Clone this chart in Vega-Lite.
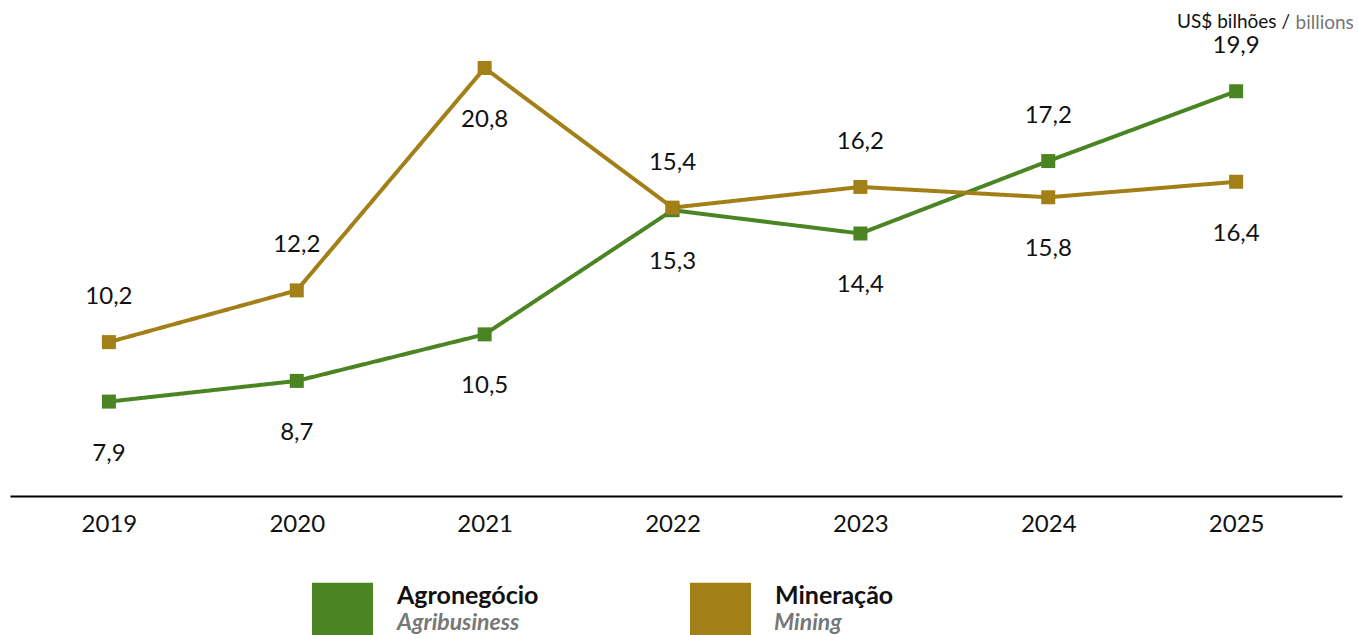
{
  "$schema": "https://vega.github.io/schema/vega-lite/v6.json",
  "width": 1332,
  "height": 472,
  "autosize": {"type": "none"},
  "padding": {"left": 10, "top": 24, "right": 17, "bottom": 139},
  "background": "white",
  "config": {"view": {"stroke": null}, "font": "Lato",
    "locale": {"number": {"decimal": ",", "thousands": ".", "grouping": [3], "currency": ["R$", ""]}}},
  "title": {"text": "US$ bilhões /", "anchor": "end", "frame": "group", "orient": "top", "offset": 0, "dy": 34, "dx": -52, "baseline": "alphabetic", "fontSize": 19, "font": "Lato", "fontWeight": "normal", "color": "#111111"},
  "data": {"values": [
    {"year": "2019", "series": "Agronegócio", "series_en": "Agribusiness", "value": 7.9, "pos": "below"},
    {"year": "2020", "series": "Agronegócio", "series_en": "Agribusiness", "value": 8.7, "pos": "below"},
    {"year": "2021", "series": "Agronegócio", "series_en": "Agribusiness", "value": 10.5, "pos": "below"},
    {"year": "2022", "series": "Agronegócio", "series_en": "Agribusiness", "value": 15.3, "pos": "below"},
    {"year": "2023", "series": "Agronegócio", "series_en": "Agribusiness", "value": 14.4, "pos": "below"},
    {"year": "2024", "series": "Agronegócio", "series_en": "Agribusiness", "value": 17.2, "pos": "above"},
    {"year": "2025", "series": "Agronegócio", "series_en": "Agribusiness", "value": 19.9, "pos": "above"},
    {"year": "2019", "series": "Mineração", "series_en": "Mining", "value": 10.2, "pos": "above"},
    {"year": "2020", "series": "Mineração", "series_en": "Mining", "value": 12.2, "pos": "above"},
    {"year": "2021", "series": "Mineração", "series_en": "Mining", "value": 20.8, "pos": "below"},
    {"year": "2022", "series": "Mineração", "series_en": "Mining", "value": 15.4, "pos": "above"},
    {"year": "2023", "series": "Mineração", "series_en": "Mining", "value": 16.2, "pos": "above"},
    {"year": "2024", "series": "Mineração", "series_en": "Mining", "value": 15.8, "pos": "below"},
    {"year": "2025", "series": "Mineração", "series_en": "Mining", "value": 16.4, "pos": "below"}
  ]},
  "encoding": {
    "x": {"field": "year", "type": "ordinal",
      "scale": {"type": "point", "padding": 0.545, "align": 0.483},
      "axis": {"title": null, "domainColor": "#000000", "domainWidth": 2, "ticks": false, "labelFontSize": 24, "labelColor": "#111111", "labelPadding": 16, "labelFont": "Lato", "grid": false, "labelAngle": 0}},
    "y": {"field": "value", "type": "quantitative",
      "scale": {"domain": [4.25, 22.5], "nice": false, "zero": false},
      "axis": {"orient": "right", "title": "billions", "titleColor": "#767676", "titleFontSize": 19, "titleFontWeight": "normal", "titleFont": "Lato", "titleAngle": 0, "titleAlign": "left", "titleBaseline": "alphabetic", "titleX": -47, "titleY": 4, "labels": false, "ticks": false, "domain": false, "grid": false}}
  },
  "layer": [
    {
      "mark": {"type": "line", "strokeWidth": 4},
      "encoding": {
        "color": {"field": "series", "type": "nominal",
          "scale": {"domain": ["Agronegócio", "Mineração"], "range": ["#4b8523", "#a27f17"]},
          "legend": {"orient": "none", "legendX": 302, "legendY": 541, "direction": "horizontal", "title": null,
            "symbolType": "M-1,-0.43H1V1.57H-1Z", "symbolSize": 3721, "symbolStrokeWidth": 0,
            "labelFont": "Lato", "labelFontSize": 25, "labelFontWeight": "bold", "labelColor": "#111111",
            "labelOffset": 24, "columnPadding": 151, "padding": 0,
            "encode": {"symbols": {"update": {"fill": {"scale": "color", "field": "value"}, "stroke": {"value": "transparent"}, "opacity": {"value": 1}}}}}},
        "strokeDash": {"field": "series_en", "type": "nominal",
          "scale": {"domain": ["Agribusiness", "Mining"], "range": [[1, 0], [1, 0]]},
          "legend": {"orient": "none", "legendX": 302, "legendY": 568, "direction": "horizontal", "title": null,
            "symbolType": "M-1,-0.43H1V1.57H-1Z", "symbolSize": 3721, "symbolOpacity": 0, "symbolStrokeWidth": 0,
            "labelFont": "Lato", "labelFontSize": 23, "labelFontWeight": "bold", "labelFontStyle": "italic", "labelColor": "#777777",
            "labelOffset": 24, "columnPadding": 169, "padding": 0}}
      }
    },
    {
      "mark": {"type": "point", "shape": "square", "filled": true, "size": 196, "opacity": 1},
      "encoding": {"color": {"field": "series", "type": "nominal"}}
    },
    {
      "transform": [{"filter": "datum.pos == 'above'"}],
      "mark": {"type": "text", "fontSize": 24, "font": "Lato", "color": "#111111", "dy": -45, "baseline": "middle"},
      "encoding": {"text": {"field": "value", "type": "quantitative", "format": ".1f"}}
    },
    {
      "transform": [{"filter": "datum.pos == 'below'"}],
      "mark": {"type": "text", "fontSize": 24, "font": "Lato", "color": "#111111", "dy": 52, "baseline": "middle"},
      "encoding": {"text": {"field": "value", "type": "quantitative", "format": ".1f"}}
    }
  ]
}
